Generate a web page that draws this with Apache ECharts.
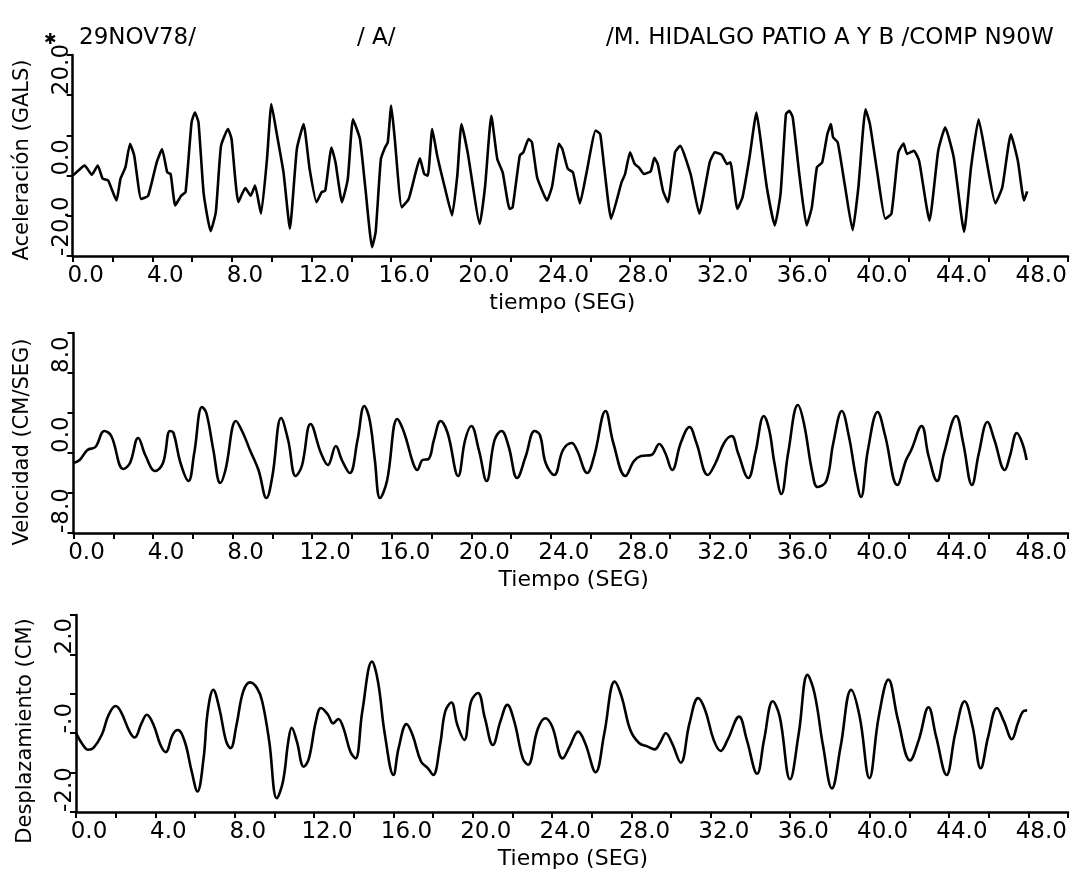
<!DOCTYPE html>
<html><head><meta charset="utf-8">
<script src="https://cdn.jsdelivr.net/npm/echarts@6/dist/echarts.min.js"></script>
<style>html,body{margin:0;padding:0;background:#fff}#c{width:1086px;height:878px}</style>
</head><body><div id="c"></div>
<script>
// ---- Header texts ----
const headerMark = '✱';
const headerLeft = '29NOV78/';
const headerMid = '/ A/';
const headerRight = '/M. HIDALGO PATIO A Y B /COMP N90W';

// ---- Axis titles ----
const accName = 'Aceleración (GALS)';
const velName = 'Velocidad (CM/SEG)';
const dispName = 'Desplazamiento (CM)';
const timeName1 = 'tiempo (SEG)';
const timeName2 = 'Tiempo (SEG)';
const timeName3 = 'Tiempo (SEG)';

// ---- Tick labels ----
const accTickLabels = {'20': '20.0', '0': '0.0', '-20': '-20.0'};
const velTickLabels = {'8': '8.0', '0': '0.0', '-8': '-8.0'};
const dispTickLabels = {'2': '2.0', '0': '-.0', '-2': '-2.0'};

// ---- Acceleration (GALS) ----
const accTime = [0,0.47,0.6,0.96,1.26,1.5,1.78,2.2,2.4,2.65,2.88,3.09,3.44,3.79,4.22,4.49,4.75,4.92,5.15,5.45,5.67,5.97,6.14,6.32,6.58,6.93,7.19,7.45,7.8,7.98,8.32,8.67,8.94,9.16,9.46,9.76,9.98,10.24,10.59,10.91,11.26,11.6,11.9,12.25,12.51,12.69,13.0,13.2,13.53,13.82,14.08,14.43,14.69,15.04,15.22,15.48,15.69,15.83,16.0,16.18,16.53,16.88,17.23,17.44,17.66,17.84,18.06,18.31,18.71,19.06,19.32,19.53,19.84,20.45,20.72,21.03,21.33,21.6,21.95,22.1,22.46,22.64,22.9,23.07,23.33,23.65,23.83,24.09,24.43,24.6,24.87,25.13,25.48,25.8,26.27,26.5,26.7,27.05,27.57,27.75,28.0,28.23,28.43,28.7,29.04,29.22,29.39,29.65,29.9,30.26,30.52,31.04,31.48,32.0,32.26,32.6,32.87,33.04,33.39,33.65,34.0,34.35,34.52,34.87,35.27,35.56,35.83,36.0,36.17,36.52,36.87,37.13,37.39,37.65,37.91,38.09,38.2,38.43,38.78,39.18,39.47,39.83,40.05,40.43,40.82,41.13,41.48,41.74,41.91,42.26,42.52,43.04,43.48,43.83,44.26,44.78,45.13,45.51,45.91,46.35,46.7,47.13,47.48,47.79,47.95];
const accValue = [0,2.1,2.5,0.2,2.5,-0.7,-1.2,-6.2,-0.8,2.1,7.9,5,-5.8,-5,3.3,6.6,0.8,0.4,-7.4,-5,-4.1,13.2,15.7,13.2,-4.5,-13.8,-9.1,7.4,11.6,9.1,-6.6,-3.1,-5,-2.5,-9.5,4.1,17.8,10.7,0.8,-13.2,6.6,12.8,1.7,-6.6,-4.1,-3.7,7.0,3.3,-6.6,-0.8,14.0,9.1,-2.5,-17.8,-14,4.1,7,8.3,17.4,9.1,-7.9,-5.8,0.8,4.3,0.4,0,11.6,5,-3.3,-9.9,0,12.8,5.8,-12,-2.5,14.9,4.1,0.8,-8.3,-7.9,5,5.8,9.1,8.3,-0.4,-4.5,-6.2,-2.5,7.9,6.6,1.7,0.8,-6.9,0.4,11.2,10.3,2.1,-10.7,-1.7,0.4,5.8,2.9,2.1,0.4,1.1,4.4,2.9,-3.7,-6.6,5.8,7.4,0.4,-9.5,3.3,5.8,5.2,2.9,3.3,-8.3,-5.4,4.5,15.7,10.3,-2.9,-12.4,-4.5,15.3,16.1,14.5,-0.4,-12.4,-7.9,2.1,3.3,10.3,12.8,9.5,8.3,-2.1,-13.6,-2.9,16.5,12.8,0.4,-10.7,-9.5,5.8,8,5.4,6.2,3.7,-11.2,6.2,12,4.5,-14,2.1,14,3.7,-6.9,-2.9,10.3,3.7,-6.2,-3.9];

// ---- Velocity (CM/SEG) ----
const velTime = [0,0.31,0.7,1.1,1.55,1.9,2.5,2.84,3.25,3.63,4.1,4.5,4.85,5.03,5.38,5.78,6.07,6.46,6.68,7.03,7.38,7.64,8.17,8.52,8.87,9.3,9.7,10.0,10.44,10.79,11.17,11.48,11.92,12.44,12.79,13.19,13.49,13.89,14.28,14.62,14.89,15.15,15.41,15.76,16.28,16.63,17.07,17.28,17.55,17.85,18.12,18.46,18.81,19.34,19.69,20.0,20.38,20.77,21.17,21.52,21.87,22.3,22.74,23.18,23.45,23.74,24.17,24.61,25.05,25.31,25.83,26.18,26.75,27.14,27.75,28.18,28.53,29.05,29.45,29.75,30.1,30.53,30.97,31.32,31.89,32.28,32.71,33.09,33.41,33.93,34.28,34.71,34.98,35.24,35.59,35.93,36.42,36.72,37.15,37.41,37.85,38.2,38.63,38.98,39.33,39.59,39.94,40.43,40.81,41.42,41.86,42.12,42.64,42.99,43.42,43.77,44.38,44.73,45.17,45.52,45.95,46.3,46.82,47.08,47.43,47.7,47.92];
const velValue = [-1.0,-0.7,0.3,0.6,2.2,1.7,-1.6,-1.0,1.5,-0.3,-1.8,-1.0,2.2,2.0,-1.0,-2.8,0,4.6,4.0,0.3,-3.0,-1.7,3.2,2.0,0.3,-1.7,-4.5,-2.3,3.5,1.3,-2.3,-1.3,2.9,0,-1.2,0.7,-0.7,-2.0,1.3,4.7,3.3,-0.7,-4.5,-2.8,3.4,2.0,-1.0,-1.7,-0.7,-0.6,1.3,3.2,2.0,-2.3,1.3,2.7,0.3,-2.8,1.3,2.2,0.7,-2.5,-0.3,2.2,1.8,-1.0,-2.2,0.3,1.0,0.3,-2.0,-0.3,4.2,1.0,-2.3,-0.8,-0.3,-0.2,0.9,0,-1.7,1.0,2.6,1.0,-2.2,-1.0,1.0,1.7,0,-2.5,0,3.7,2.3,-1.0,-4.1,0,4.8,3.0,-2.0,-3.4,-2.8,1.0,4.2,1.7,-2.3,-4.4,0.3,4.1,1.7,-3.2,-0.7,0.3,2.7,-0.3,-2.8,0,3.7,1.0,-3.2,0,3.1,1.3,-1.7,-0.3,2.0,1.0,-0.7];

// ---- Displacement (CM) ----
const dispTime = [0,0.35,0.61,0.87,1.3,1.65,2.0,2.26,2.7,2.96,3.3,3.57,3.91,4.26,4.52,4.87,5.13,5.48,5.83,6.12,6.43,6.64,6.92,7.22,7.57,7.79,8.09,8.43,8.78,9.13,9.39,9.74,10.12,10.43,10.7,10.87,11.13,11.48,11.74,12.09,12.35,12.7,12.96,13.22,13.48,13.83,14.09,14.43,14.92,15.22,15.57,16.0,16.26,16.66,16.96,17.39,17.74,18.0,18.35,18.61,18.92,19.22,19.57,19.91,20.26,20.61,21.01,21.39,21.74,22.09,22.52,22.78,23.27,23.65,24.0,24.53,24.88,25.31,25.66,26.19,26.63,27.15,27.5,27.94,28.38,28.82,29.17,29.43,29.73,30.04,30.48,30.92,31.36,31.71,32.14,32.49,32.84,33.42,33.81,34.33,34.68,35.12,35.47,35.99,36.43,36.87,37.22,37.66,38.1,38.54,39.07,39.5,39.99,40.46,40.95,41.43,42.04,42.48,42.97,43.35,43.88,44.32,44.79,45.19,45.6,45.98,46.42,46.77,47.17,47.47,47.73,47.94];
const dispValue = [0,-0.3,-0.42,-0.38,-0.04,0.47,0.69,0.55,0.04,-0.11,0.25,0.47,0.21,-0.3,-0.48,-0.04,0.08,-0.21,-0.97,-1.48,-0.64,0.55,1.1,0.64,-0.21,-0.38,0.21,1.06,1.29,1.14,0.8,-0.21,-1.65,-1.23,-0.21,0.14,-0.21,-0.85,-0.64,0.3,0.64,0.47,0.25,0.36,0.13,-0.47,-0.64,0.55,1.82,1.31,-0.04,-1.06,-0.38,0.23,-0.04,-0.72,-0.89,-1.06,-0.3,0.55,0.78,0.21,-0.17,0.8,1.02,0.38,-0.3,0.3,0.72,0.3,-0.64,-0.8,0.1,0.38,0.17,-0.64,-0.34,0.04,-0.25,-0.99,0,1.31,0.93,0.08,-0.25,-0.34,-0.41,-0.25,0,-0.25,-0.75,0.25,0.89,0.59,-0.17,-0.45,-0.17,0.42,-0.17,-1.03,-0.17,0.81,0.42,-1.17,0,1.48,1.02,-0.34,-1.4,-0.34,1.1,0.42,-1.14,0.42,1.36,0.34,-0.69,-0.17,0.66,-0.08,-1.06,0,0.81,0.17,-0.89,-0.08,0.64,0.3,-0.15,0.25,0.55,0.58];

const FONT = 'DejaVu Sans';
const black = '#000';

function xAxisOpt(gi, name, namePad) {
  return {
    type: 'value', gridIndex: gi, min: 0, max: 50, interval: 2,
    axisLine: {show: true, onZero: false, lineStyle: {color: black, width: 2.5}},
    axisTick: {show: true, length: 6, lineStyle: {color: black, width: 2}},
    splitLine: {show: false},
    axisLabel: {
      color: black, fontFamily: FONT, fontSize: 23, margin: 9,
      padding: [0, 0, 0, 26],
      formatter: v => (v % 4 === 0 && v <= 48) ? v.toFixed(1) : ''
    },
    name: name, nameLocation: 'middle', nameGap: 36,
    nameTextStyle: {color: black, fontFamily: FONT, fontSize: 22, padding: namePad}
  };
}
function yAxisOpt(gi, min, max, interval, labels, name, namePad) {
  return {
    type: 'value', gridIndex: gi, min: min, max: max, interval: interval,
    axisLine: {show: true, onZero: false, lineStyle: {color: black, width: 2.5}},
    axisTick: {show: true, length: 6, lineStyle: {color: black, width: 2}},
    splitLine: {show: false},
    axisLabel: {
      color: black, fontFamily: FONT, fontSize: 23, rotate: 90,
      align: 'left', verticalAlign: 'middle', margin: 11,
      formatter: v => (labels[String(v)] !== undefined ? labels[String(v)] : '')
    },
    name: name, nameLocation: 'middle', nameGap: 40,
    nameTextStyle: {color: black, fontFamily: FONT, fontSize: 21, padding: namePad}
  };
}
function lineSeries(idx, times, values, smooth) {
  return {
    type: 'line', xAxisIndex: idx, yAxisIndex: idx,
    data: times.map((t, i) => [t, values[i]]),
    showSymbol: false, smooth: smooth, silent: true,
    lineStyle: {color: black, width: 2.6}
  };
}

const chart = echarts.init(document.getElementById('c'), null, {renderer: 'canvas'});
chart.setOption({
  animation: false,
  backgroundColor: '#fff',
  grid: [
    {left: 72.7, top: 55, width: 995.3, height: 201, outerBoundsMode: 'none'},
    {left: 73.5, top: 333, width: 994.5, height: 200, outerBoundsMode: 'none'},
    {left: 76, top: 615, width: 992, height: 197, outerBoundsMode: 'none'}
  ],
  xAxis: [
    xAxisOpt(0, timeName1, [0, 16, 0, 0]),
    xAxisOpt(1, timeName2, [0, 0, 0, 6]),
    xAxisOpt(2, timeName3, [0, 0, 0, 2])
  ],
  yAxis: [
    yAxisOpt(0, -20, 30, 10, accTickLabels, accName, [0, 9, 0, 0]),
    yAxisOpt(1, -8, 12, 4, velTickLabels, velName, [0, 18, 0, 0]),
    yAxisOpt(2, -2, 3, 1, dispTickLabels, dispName, [0, 35, 0, 0])
  ],
  series: [
    lineSeries(0, accTime, accValue, 0.15),
    lineSeries(1, velTime, velValue, 0.4),
    lineSeries(2, dispTime, dispValue, 0.4)
  ],
  graphic: [
    {type: 'text', x: 44, y: 40, style: {text: headerMark, font: 'bold 15px "DejaVu Sans"', fill: black, verticalAlign: 'middle'}},
    {type: 'text', x: 79, y: 38, style: {text: headerLeft, font: '23px "DejaVu Sans"', fill: black, verticalAlign: 'middle'}},
    {type: 'text', x: 357, y: 38, style: {text: headerMid, font: '23px "DejaVu Sans"', fill: black, verticalAlign: 'middle'}},
    {type: 'text', x: 606, y: 38, style: {text: headerRight, font: '23px "DejaVu Sans"', fill: black, verticalAlign: 'middle'}}
  ]
});
</script>
</body></html>
